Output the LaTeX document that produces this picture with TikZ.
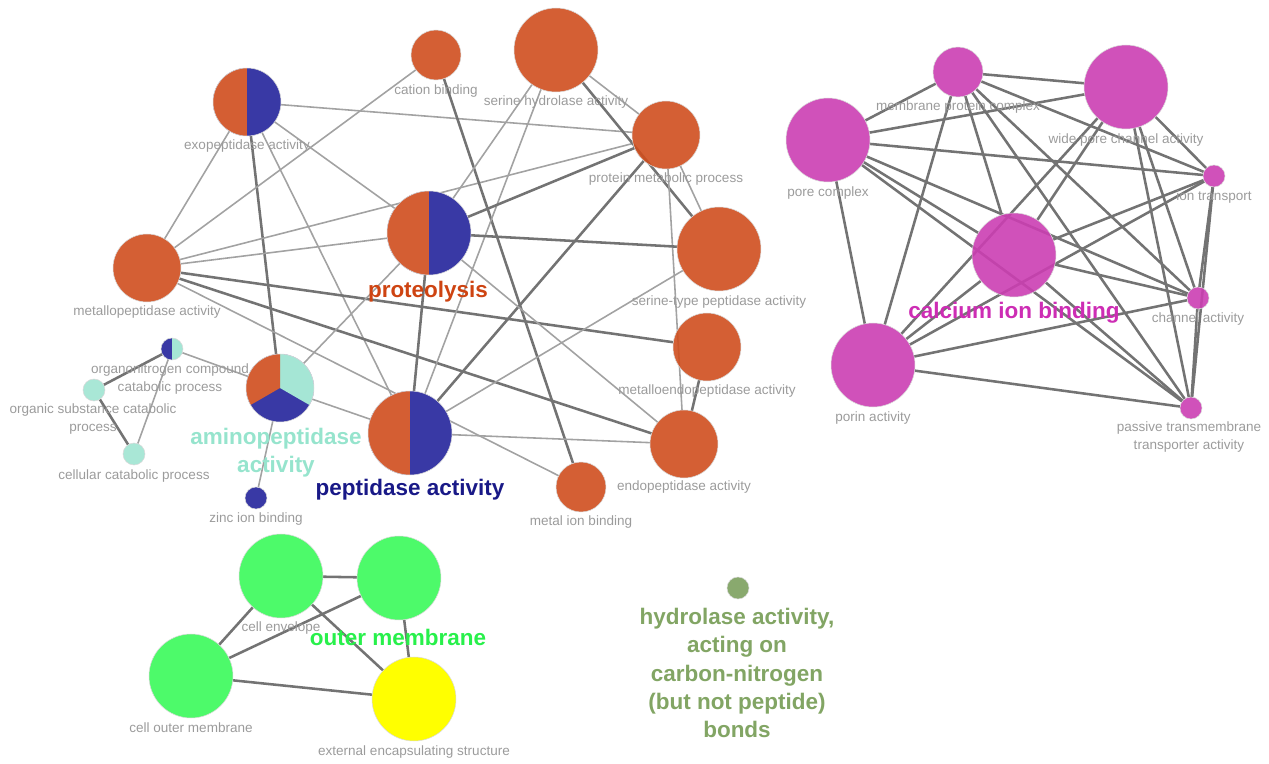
\documentclass[tikz,border=0pt]{standalone}
\usepackage{fontspec}
\setmainfont{Liberation Sans}
\usetikzlibrary{backgrounds}
\definecolor{goOrange}{RGB}{207,78,30}
\definecolor{goBlue}{RGB}{57,57,165}
\definecolor{goTeal}{RGB}{160,228,210}
\definecolor{goMagenta}{RGB}{203,62,178}
\definecolor{goGreen}{RGB}{58,249,90}
\definecolor{goYellow}{RGB}{255,255,0}
\definecolor{goOlive}{RGB}{124,160,94}
\definecolor{pieOrange}{RGB}{212,94,51}
\definecolor{pieTeal}{RGB}{165,230,213}
\definecolor{capGray}{RGB}{155,155,155}
\definecolor{linkGray}{RGB}{162,162,162}
\definecolor{strongGray}{RGB}{115,115,115}
\definecolor{proteoText}{RGB}{206,68,18}
\definecolor{peptText}{RGB}{25,25,135}
\definecolor{aminoText}{RGB}{150,228,205}
\definecolor{calciumText}{RGB}{205,45,180}
\definecolor{outerText}{RGB}{40,240,75}
\definecolor{hydroText}{RGB}{130,165,100}
\tikzstyle{term} = [circle, draw = gray!30, line width = 0.3pt, inner sep = 0pt, outer sep = 0pt, fill opacity = 0.9]
\tikzstyle{bigterm} = [term, minimum size = 1.68cm]
\tikzstyle{midterm} = [term, minimum size = 1.36cm]
\tikzstyle{smallterm} = [term, minimum size = 1cm]
\tikzstyle{tinyterm} = [term, minimum size = 0.44cm]
\tikzstyle{caption} = [text = capGray, font = \fontsize{7.7}{9.9}\selectfont, align = center, inner sep = 0pt]
\tikzstyle{group} = [font = \bfseries\fontsize{12.8}{16}\selectfont, align = center, inner sep = 0pt]
\tikzstyle{link} = [draw = linkGray, line width = 0.9pt]
\tikzstyle{strong link} = [draw = strongGray, line width = 1.45pt]
\tikzset{halves/.style 2 args = {fill = #2, fill opacity = 1,
    path picture = {\fill [#1] (path picture bounding box.south west) rectangle (path picture bounding box.north);}}}
\tikzset{thirds/.style = {fill = goBlue, fill opacity = 1,
    path picture = {
      \fill [pieTeal] (path picture bounding box.center) -- +(90:1cm) -- +(30:1.2cm) -- +(-30:1cm) -- cycle;
      \fill [pieOrange] (path picture bounding box.center) -- +(90:1cm) -- +(150:1.2cm) -- +(210:1cm) -- cycle;}}}

\begin{document}
\begin{tikzpicture}[x = 0.02cm, y = -0.02cm]
    \useasboundingbox (0,0) rectangle (1269,764);

    % protease terms
    \node (exo) [midterm, halves = {pieOrange}{goBlue}] at (247,102) {};
    \node (cation) [smallterm, fill = goOrange] at (436,55) {};
    \node (serhyd) [bigterm, fill = goOrange] at (556,50) {};
    \node (protmeta) [midterm, fill = goOrange] at (666,135) {};
    \node (proteo) [bigterm, halves = {pieOrange}{goBlue}] at (429,233) {};
    \node (sertype) [bigterm, fill = goOrange] at (719,249) {};
    \node (metallo) [midterm, fill = goOrange] at (147,268) {};
    \node (metalloendo) [midterm, fill = goOrange] at (707,347) {};
    \node (organo) [tinyterm, halves = {goBlue}{pieTeal}] at (172,349) {};
    \node (organic) [tinyterm, fill = goTeal] at (94,390) {};
    \node (amino) [midterm, thirds] at (280,388) {};
    \node (cellular) [tinyterm, fill = goTeal] at (134,454) {};
    \node (pept) [bigterm, halves = {pieOrange}{goBlue}] at (410,433) {};
    \node (endo) [midterm, fill = goOrange] at (684,444) {};
    \node (metalion) [smallterm, fill = goOrange] at (581,487) {};
    \node (zinc) [tinyterm, fill = goBlue, fill opacity = 1] at (256,498) {};

    % channel terms
    \node (mpc) [smallterm, fill = goMagenta] at (958,72) {};
    \node (widepore) [bigterm, fill = goMagenta] at (1126,87) {};
    \node (porecx) [bigterm, fill = goMagenta] at (828,140) {};
    \node (iontr) [tinyterm, fill = goMagenta] at (1214,176) {};
    \node (calcium) [bigterm, fill = goMagenta] at (1014,255) {};
    \node (channel) [tinyterm, fill = goMagenta] at (1198,298) {};
    \node (porin) [bigterm, fill = goMagenta] at (873,365) {};
    \node (passive) [tinyterm, fill = goMagenta] at (1191,408) {};

    % membrane terms
    \node (envelope) [bigterm, fill = goGreen] at (281,576) {};
    \node (outermem) [bigterm, fill = goGreen] at (399,578) {};
    \node (cellouter) [bigterm, fill = goGreen] at (191,676) {};
    \node (external) [bigterm, fill = goYellow, fill opacity = 1] at (414,699) {};
    \node (hydrolase) [tinyterm, fill = goOlive] at (738,588) {};

    % term captions
    \node (exo-cap) [caption] at (247,146) {exopeptidase activity};
    \node (cation-cap) [caption] at (436,91) {cation binding};
    \node (serhyd-cap) [caption] at (556,102) {serine hydrolase activity};
    \node (protmeta-cap) [caption] at (666,179) {protein metabolic process};
    \node (sertype-cap) [caption] at (719,302) {serine-type peptidase activity};
    \node (metallo-cap) [caption] at (147,312) {metallopeptidase activity};
    \node (organo-cap) [caption] at (170,379) {organonitrogen compound\\catabolic process};
    \node (organic-cap) [caption] at (93,419) {organic substance catabolic\\process};
    \node (cellular-cap) [caption] at (134,476) {cellular catabolic process};
    \node (zinc-cap) [caption] at (256,519) {zinc ion binding};
    \node (metalloendo-cap) [caption] at (707,391) {metalloendopeptidase activity};
    \node (endo-cap) [caption] at (684,487) {endopeptidase activity};
    \node (metalion-cap) [caption] at (581,522) {metal ion binding};
    \node (mpc-cap) [caption] at (958,107) {membrane protein complex};
    \node (widepore-cap) [caption] at (1126,140) {wide pore channel activity};
    \node (porecx-cap) [caption] at (828,193) {pore complex};
    \node (iontr-cap) [caption] at (1214,197) {ion transport};
    \node (channel-cap) [caption] at (1198,319) {channel activity};
    \node (porin-cap) [caption] at (873,418) {porin activity};
    \node (passive-cap) [caption] at (1189,437) {passive transmembrane\\transporter activity};
    \node (envelope-cap) [caption] at (281,628) {cell envelope};
    \node (cellouter-cap) [caption] at (191,728) {cell outer membrane};
    \node (external-cap) [caption] at (414,752) {external encapsulating structure};

    % cluster titles
    \node (proteo-title) [group, text = proteoText] at (428,292) {proteolysis};
    \node (amino-title) [group, text = aminoText] at (276,453) {aminopeptidase\\activity};
    \node (pept-title) [group, text = peptText] at (410,490) {peptidase activity};
    \node (calcium-title) [group, text = calciumText] at (1014,313) {calcium ion binding};
    \node (outermem-title) [group, text = outerText] at (398,637) {outer membrane};
    \node (hydrolase-title) [group, text = hydroText] at (737,673) {hydrolase activity,\\acting on\\carbon-nitrogen\\(but not peptide)\\bonds};

    \begin{scope}[on background layer]
    \draw [link] (exo) -- (metallo);
    \draw [strong link] (exo) -- (amino);
    \draw [link] (exo) -- (pept);
    \draw [link] (exo) -- (proteo);
    \draw [link] (exo) -- (protmeta);
    \draw [link] (metallo) -- (cation);
    \draw [link] (metallo) -- (protmeta);
    \draw [link] (metallo) -- (proteo);
    \draw [strong link] (metallo) -- (metalloendo);
    \draw [strong link] (metallo) -- (endo);
    \draw [link] (metallo) -- (metalion);
    \draw [strong link] (cation) -- (metalion);
    \draw [link] (serhyd) -- (proteo);
    \draw [link] (serhyd) -- (pept);
    \draw [link] (serhyd) -- (protmeta);
    \draw [strong link] (serhyd) -- (sertype);
    \draw [strong link] (protmeta) -- (proteo);
    \draw [strong link] (protmeta) -- (pept);
    \draw [link] (protmeta) -- (sertype);
    \draw [link] (protmeta) -- (endo);
    \draw [strong link] (proteo) -- (sertype);
    \draw [strong link] (proteo) -- (pept);
    \draw [link] (proteo) -- (amino);
    \draw [link] (proteo) -- (endo);
    \draw [link] (sertype) -- (pept);
    \draw [strong link] (metalloendo) -- (endo);
    \draw [link] (pept) -- (endo);
    \draw [link] (pept) -- (amino);
    \draw [link] (amino) -- (zinc);
    \draw [link] (amino) -- (organo);
    \draw [strong link] (organo) -- (organic);
    \draw [link] (organo) -- (cellular);
    \draw [strong link] (organic) -- (cellular);

    \draw [strong link] (mpc) -- (widepore);
    \draw [strong link] (mpc) -- (porecx);
    \draw [strong link] (mpc) -- (porin);
    \draw [strong link] (mpc) -- (calcium);
    \draw [strong link] (mpc) -- (channel);
    \draw [strong link] (mpc) -- (passive);
    \draw [strong link] (mpc) -- (iontr);
    \draw [strong link] (widepore) -- (porecx);
    \draw [strong link] (widepore) -- (iontr);
    \draw [strong link] (widepore) -- (calcium);
    \draw [strong link] (widepore) -- (porin);
    \draw [strong link] (widepore) -- (channel);
    \draw [strong link] (widepore) -- (passive);
    \draw [strong link] (porecx) -- (iontr);
    \draw [strong link] (porecx) -- (porin);
    \draw [strong link] (porecx) -- (calcium);
    \draw [strong link] (porecx) -- (channel);
    \draw [strong link] (porecx) -- (passive);
    \draw [strong link] (calcium) -- (iontr);
    \draw [strong link] (calcium) -- (channel);
    \draw [strong link] (calcium) -- (passive);
    \draw [strong link] (calcium) -- (porin);
    \draw [strong link] (porin) -- (iontr);
    \draw [strong link] (porin) -- (channel);
    \draw [strong link] (porin) -- (passive);
    \draw [strong link] (iontr) -- (channel);
    \draw [strong link] (iontr) -- (passive);
    \draw [strong link] (channel) -- (passive);

    \draw [strong link] (envelope) -- (outermem);
    \draw [strong link] (envelope) -- (cellouter);
    \draw [strong link] (envelope) -- (external);
    \draw [strong link] (outermem) -- (cellouter);
    \draw [strong link] (outermem) -- (external);
    \draw [strong link] (cellouter) -- (external);
    \end{scope}
\end{tikzpicture}
\end{document}
